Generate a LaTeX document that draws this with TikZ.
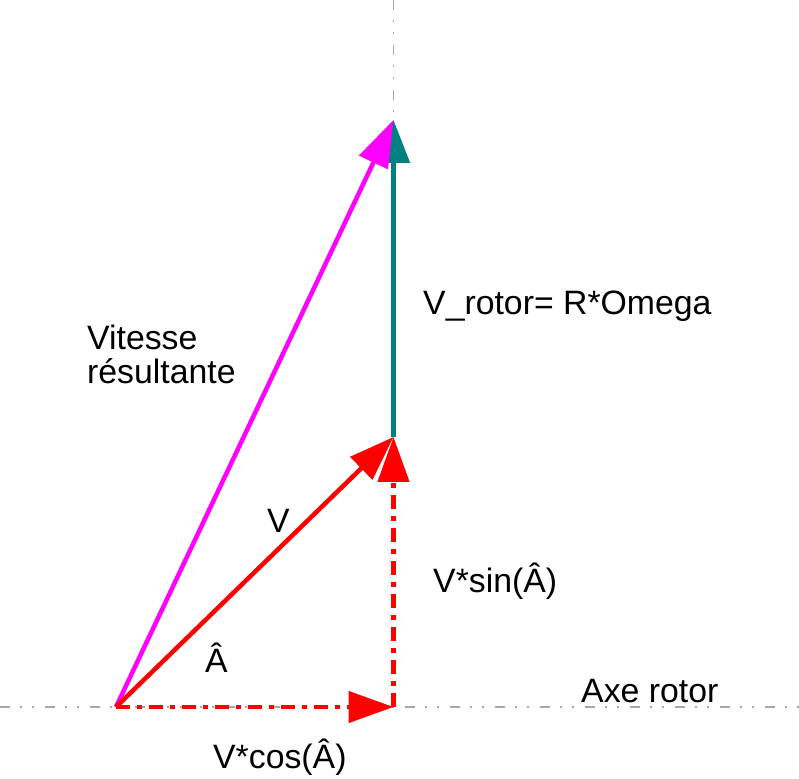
\documentclass[tikz,border=0pt]{standalone}
\usepackage{fontspec}
\setmainfont{Liberation Sans}
\usetikzlibrary{arrows.meta}
\definecolor{axisgray}{HTML}{A8A8A8}
\definecolor{tealc}{HTML}{008080}
\definecolor{magc}{HTML}{FF00FF}
\definecolor{redc}{HTML}{FF0000}
\begin{document}
\begin{tikzpicture}[x=1pt,y=1pt,
  axisline/.style={draw=axisgray,line width=1.6pt,dash pattern=on 10pt off 10pt on 2pt off 10pt on 2pt off 11pt},
  bigtip/.style={-{Triangle[length=45pt,width=31pt]}},
  vecred/.style={draw=redc,line width=4.5pt,bigtip},
  vecdd/.style={draw=redc,line width=4.5pt,bigtip,dash pattern=on 14pt off 7pt on 5pt off 7pt},
  vecmag/.style={draw=magc,line width=4.5pt,-{Triangle[length=47pt,width=31pt]}},
  vecteal/.style={draw=tealc,line width=5pt,-{Triangle[length=43pt,width=32pt]}},
  lbl/.style={font=\fontsize{33.8}{34}\selectfont,inner sep=0pt,anchor=base west,text=black}]
\useasboundingbox (0,0) rectangle (799,778);
% key points
\coordinate (O) at (116,71);
\coordinate (F) at (393.5,71);
\coordinate (M) at (393.5,341);
\coordinate (T) at (393.5,658);
\coordinate (AL) at (0,71);
\coordinate (AR) at (799,71);
\coordinate (VT) at (393.5,778);
% axes
\draw[axisline] (AL) -- (AR);
\draw[axisline] (VT) -- (T);
% projections
\draw[vecdd] (O) -- (F);
\draw[vecdd] (F) -- (M);
% vectors
\draw[vecteal] (M) -- (T);
\draw[vecmag] (O) -- (T);
\draw[vecred] (O) -- (M);
% labels
\node[lbl] (vrot) at (423,463) {V\_rotor= R*Omega};
\node[lbl,align=left,anchor=south west,text depth=0pt] (vit) at (87,394) {Vitesse\\résultante};
\node[lbl] (vv) at (267,245) {V};
\node[lbl] (vsin) at (433,185) {V*sin(Â)};
\node[lbl] (ang) at (205,105) {Â};
\node[lbl] (vcos) at (213,10) {V*cos(Â)};
\node[lbl] (axe) at (581,76) {Axe rotor};
\end{tikzpicture}
\end{document}
